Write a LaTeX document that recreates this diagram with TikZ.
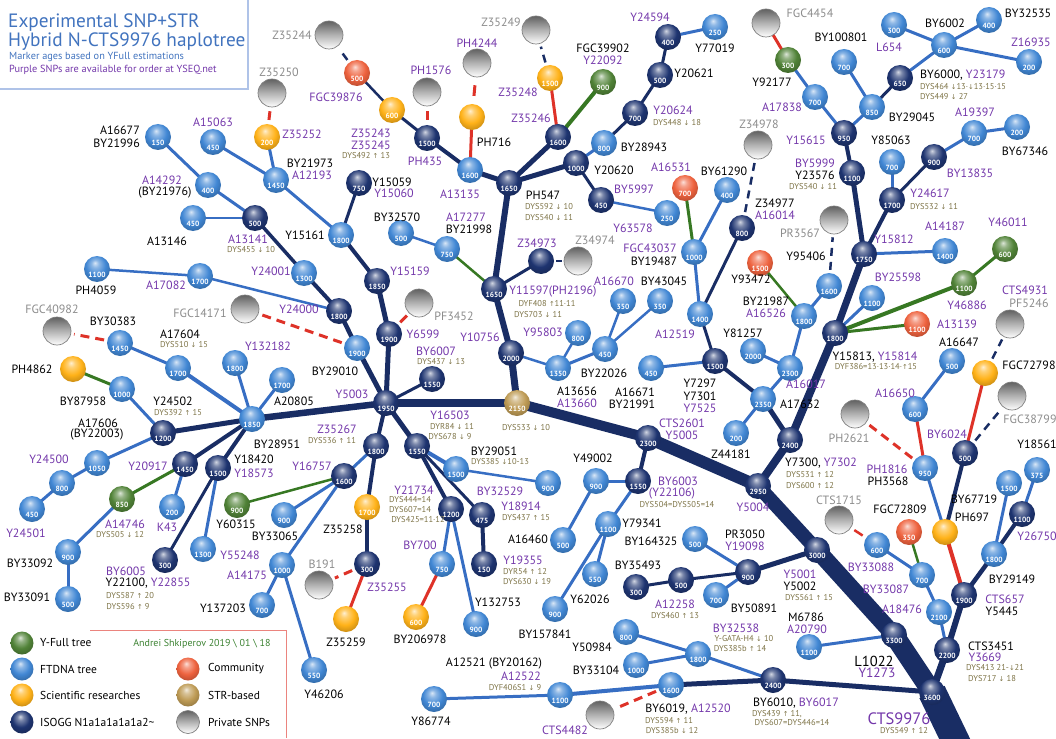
\documentclass[tikz,border=0pt]{standalone}
\usepackage{fontspec}
\setmainfont{PT Sans}
\newfontfamily\arrowfont[Scale=0.8]{DejaVu Sans}
\usetikzlibrary{backgrounds}
\newcommand\upar{{\arrowfont ↑}}
\newcommand\dnar{{\arrowfont ↓}}
\makeatletter
\pgfdeclareradialshading[tikz@ball]{gball}{\pgfqpoint{-4bp}{12bp}}{color(0bp)=(tikz@ball!20!white); color(7bp)=(tikz@ball!60!white); color(19bp)=(tikz@ball); color(31bp)=(tikz@ball!78!black); color(37bp)=(tikz@ball!62!black); color(50bp)=(tikz@ball!50!black)}
\makeatother
\definecolor{cnv}{RGB}{30,52,112}
\definecolor{clb}{RGB}{65,135,212}
\definecolor{cgr}{RGB}{80,130,55}
\definecolor{cor}{RGB}{255,178,25}
\definecolor{crd}{RGB}{238,98,62}
\definecolor{ctn}{RGB}{190,155,85}
\definecolor{enav}{RGB}{25,45,100}
\definecolor{eblu}{RGB}{55,110,195}
\definecolor{egrn}{RGB}{55,120,35}
\definecolor{ered}{RGB}{222,50,40}
\definecolor{tpur}{RGB}{115,55,170}
\definecolor{tgry}{RGB}{140,140,140}
\definecolor{tolv}{RGB}{125,115,70}
\definecolor{tblu}{RGB}{65,115,190}
\definecolor{tgrn}{RGB}{60,130,50}
\tikzset{
 bb/.style={circle,minimum size=26pt,inner sep=0pt},
 bNv/.style={bb,ball color=cnv,shading=gball},
 bLb/.style={bb,ball color=clb,shading=gball},
 bGr/.style={bb,ball color=cgr,shading=gball},
 bOr/.style={bb,ball color=cor,shading=gball},
 bRd/.style={bb,ball color=crd,shading=gball},
 bTn/.style={bb,ball color=ctn,shading=gball},
 bGy/.style={circle,minimum size=28pt,inner sep=0pt,top color=black!62,bottom color=white,middle color=black!30,draw=black!50,line width=0.7pt},
 num/.style={text=white,font=\fontsize{7.5}{7.5}\selectfont\bfseries,inner sep=0pt},
 tk/.style={font=\fontsize{12}{12}\selectfont,inner sep=0pt,text=black},
 tp/.style={tk,text=tpur},
 tg/.style={tk,text=tgry},
 ts/.style={font=\fontsize{8.5}{8.5}\selectfont,inner sep=0pt,text=tolv},
 eN/.style={draw=enav},
 eB/.style={draw=eblu,line width=3pt},
 eG/.style={draw=egrn,line width=3pt},
 eR/.style={draw=ered,line width=3pt},
 dN/.style={draw=enav,line width=2.5pt,dash pattern=on 8pt off 6pt,shorten <=3pt,shorten >=3pt},
 dR/.style={draw=ered,line width=3pt,dash pattern=on 9pt off 6pt,shorten <=3pt,shorten >=3pt},
 lgb/.style={circle,minimum size=23pt,inner sep=0pt},
 lgt/.style={anchor=west,font=\fontsize{11.5}{11.5}\selectfont,inner sep=0pt},
}
\newcommand\Ball[5]{\node[#1] (#2) at (#3,#4) {}; \node[num] (#2n) at ([yshift=-5.5pt]#2.center) {#5};}
\begin{document}
\begin{tikzpicture}[x=1pt,y=-1pt]
\useasboundingbox (0,0) rectangle (1056,738);
% title
\draw[draw={rgb,255:red,175;green,195;blue,232},line width=1.5pt] (0,89) -- (248,89) -- (248,0);
\node[anchor=north west,align=left,font=\fontsize{19.3}{15.5}\selectfont,text=tblu,inner sep=0pt] (ti1) at (8,14) {Experimental SNP+STR\\Hybrid N-CTS9976 haplotree};
\node[anchor=west,font=\fontsize{10.3}{10.3}\selectfont,text=tblu,inner sep=0pt] (ti3) at (9,57) {Marker ages based on YFull estimations};
\node[anchor=west,font=\fontsize{10.3}{10.3}\selectfont,text=tpur,inner sep=0pt] (ti4) at (9,70) {Purple SNPs are available for order at YSEQ.net};
% legend
\draw[draw=ered!60,line width=0.9pt] (90,630) -- (286,630) -- (286,738);
\node[font=\fontsize{10}{10}\selectfont,text=tgrn,inner sep=0pt] (foot) at (202,644) {Andrei Shkiperov 2019 \textbackslash{} 01 \textbackslash{} 18};
\node[lgb,ball color=cgr,shading=gball] (lg1) at (22,643) {};
\node[lgb,ball color=clb,shading=gball] (lg2) at (22,669) {};
\node[lgb,ball color=cor,shading=gball] (lg3) at (22,695) {};
\node[lgb,ball color=cnv,shading=gball] (lg4) at (22,722) {};
\node[lgb,ball color=crd,shading=gball] (lg5) at (188,669) {};
\node[lgb,ball color=ctn,shading=gball] (lg6) at (188,695) {};
\node[lgb,top color=black!62,bottom color=white,middle color=black!30,draw=black!50,line width=0.7pt] (lg7) at (188,722) {};
\node[lgt] (lt1) at (40,643) {Y-Full tree};
\node[lgt] (lt2) at (40,669) {FTDNA tree};
\node[lgt] (lt3) at (40,695) {Scientific researches};
\node[lgt] (lt4) at (40,722) {ISOGG N1a1a1a1a1a2\textasciitilde};
\node[lgt] (lt5) at (208,669) {Community};
\node[lgt] (lt6) at (208,695) {STR-based};
\node[lgt] (lt7) at (208,722) {Private SNPs};
% balls
\Ball{bLb}{a16677}{158}{137}{150}
\Ball{bLb}{a15063}{213}{142}{450}
\Ball{bLb}{a14292}{208}{185}{400}
\Ball{bLb}{a13146}{193}{218}{450}
\Ball{bNv}{a13141}{255}{218}{500}
\Ball{bOr}{z35252}{267}{137}{200}
\Ball{bGy}{z35250}{272}{93}{}
\Ball{bLb}{by21973}{276}{180}{1450}
\Ball{bGy}{z35244}{329}{35}{}
\Ball{bRd}{fgc39876}{357}{73}{500}
\Ball{bOr}{z35243}{392}{110}{600}
\Ball{bGy}{ph1576}{427}{92}{}
\Ball{bNv}{ph435}{427}{138}{1500}
\Ball{bGy}{ph4244}{477}{63}{}
\Ball{bOr}{ph716}{472}{117}{}
\Ball{bLb}{a13135}{470}{170}{1600}
\Ball{bNv}{ph547}{509}{183}{1650}
\Ball{bNv}{y15059}{359}{183}{750}
\Ball{bLb}{y15161}{341}{235}{1800}
\Ball{bLb}{by32570}{401}{233}{500}
\Ball{bLb}{a17277}{447}{249}{750}
\Ball{bGy}{z35249}{536}{30}{}
\Ball{bOr}{z35248}{550}{78}{1500}
\Ball{bNv}{z35246}{558}{137}{1600}
\Ball{bGr}{fgc39902}{603}{82}{900}
\Ball{bNv}{y24594}{668}{37}{400}
\Ball{bLb}{y77019}{715}{27}{250}
\Ball{bNv}{y20621}{660}{75}{500}
\Ball{bNv}{y20624}{635}{113}{700}
\Ball{bLb}{by28943}{604}{143}{800}
\Ball{bNv}{y20620}{576}{163}{1000}
\Ball{bNv}{by5997}{601}{200}{450}
\Ball{bLb}{y63578}{667}{213}{250}
\Ball{bRd}{a16531}{685}{188}{700}
\Ball{bLb}{by61290}{727}{190}{400}
\Ball{bGy}{z34978}{758}{145}{}
\Ball{bNv}{z34977}{742}{228}{800}
\Ball{bLb}{fgc43037}{694}{252}{1000}
\Ball{bGy}{fgc4454}{766}{23}{}
\Ball{bGr}{y92177}{788}{60}{300}
\Ball{bLb}{a17838}{815}{97}{700}
\Ball{bLb}{by100801}{844}{62}{700}
\Ball{bNv}{y15615}{844}{133}{950}
\Ball{bLb}{by29045}{872}{107}{850}
\Ball{bNv}{by6000}{900}{78}{650}
\Ball{bLb}{by6002}{944}{45}{600}
\Ball{bLb}{l654}{894}{25}{300}
\Ball{bLb}{by32535}{989}{20}{400}
\Ball{bLb}{z16935}{1029}{62}{200}
\Ball{bLb}{a19397}{974}{133}{700}
\Ball{bLb}{by67346}{1017}{127}{200}
\Ball{bNv}{by13835}{934}{157}{900}
\Ball{bLb}{y85063}{892}{162}{700}
\Ball{bNv}{y24617}{892}{200}{1700}
\Ball{bNv}{by5999}{852}{173}{1100}
\Ball{bGy}{pr3567}{834}{220}{}
\Ball{bNv}{y15812}{864}{254}{1750}
\Ball{bLb}{a14187}{945}{251}{1400}
\Ball{bGr}{y46011}{1005}{249}{600}
\Ball{bLb}{ph4059}{97}{269}{1100}
\Ball{bLb}{a17082}{200}{276}{1700}
\Ball{bGy}{fgc40982}{57}{331}{}
\Ball{bLb}{by30383}{120}{343}{1450}
\Ball{bGy}{fgc14171}{245}{309}{}
\Ball{bLb}{a17604}{178}{368}{1700}
\Ball{bOr}{ph4862}{73}{369}{}
\Ball{bLb}{by87958}{122}{389}{1000}
\Ball{bNv}{y24502}{163}{433}{1200}
\Ball{bLb}{y132182}{235}{363}{1800}
\Ball{bLb}{by28951}{252}{419}{1850}
\Ball{bLb}{a20805}{282}{380}{1700}
\Ball{bLb}{a17606}{97}{463}{1050}
\Ball{bLb}{y24500}{62}{483}{800}
\Ball{bLb}{y24501}{32}{509}{450}
\Ball{bNv}{y20917}{185}{464}{1450}
\Ball{bNv}{y18420}{218}{468}{1500}
\Ball{bGr}{y60315}{237}{505}{900}
\Ball{bLb}{y24001}{304}{273}{1300}
\Ball{bNv}{y24000}{339}{311}{1800}
\Ball{bLb}{by29010}{357}{348}{1900}
\Ball{bNv}{y15159}{377}{281}{1850}
\Ball{bNv}{y6599}{389}{334}{1900}
\Ball{bGy}{pf3452}{419}{303}{}
\Ball{bNv}{by6007}{432}{379}{1550}
\Ball{bNv}{y5003}{386}{403}{1950}
\Ball{bTn}{str2150}{517}{403}{2150}
\Ball{bNv}{y10756}{511}{353}{2000}
\Ball{bNv}{y11597}{494}{289}{1650}
\Ball{bNv}{z35267}{376}{446}{1800}
\Ball{bNv}{y16503}{417}{446}{1550}
\Ball{bLb}{by29051}{456}{469}{1500}
\Ball{bNv}{y16757}{344}{476}{1600}
\Ball{bNv}{z34973}{541}{261}{}
\Ball{bGy}{z34974}{578}{261}{}
\Ball{bLb}{a16670}{623}{301}{350}
\Ball{bLb}{by43045}{660}{301}{350}
\Ball{bLb}{y95803}{578}{333}{800}
\Ball{bLb}{by22026}{605}{349}{450}
\Ball{bLb}{a13656}{558}{368}{1350}
\Ball{bLb}{a16671}{651}{368}{450}
\Ball{bLb}{a12519}{700}{314}{1400}
\Ball{bNv}{y7297}{715}{361}{1500}
\Ball{bLb}{y81257}{753}{351}{2000}
\Ball{bLb}{a17632}{763}{399}{2350}
\Ball{bLb}{z44181}{736}{433}{200}
\Ball{bNv}{cts2601}{648}{438}{2300}
\Ball{bNv}{y7300}{790}{440}{2400}
\Ball{bNv}{y5004}{758}{486}{2950}
\Ball{bRd}{y93472}{760}{263}{1500}
\Ball{bLb}{y95406}{829}{286}{1600}
\Ball{bLb}{by21987}{804}{316}{1800}
\Ball{bLb}{a16017}{790}{368}{2300}
\Ball{bNv}{y15813}{835}{333}{1800}
\Ball{bLb}{by25598}{872}{298}{1100}
\Ball{bGr}{y46886}{964}{283}{1100}
\Ball{bRd}{a13139}{917}{324}{1100}
\Ball{bLb}{a16647}{952}{361}{500}
\Ball{bLb}{a16650}{915}{409}{600}
\Ball{bLb}{ph1816}{925}{468}{950}
\Ball{bGy}{ph2621}{855}{414}{}
\Ball{bNv}{by6024}{965}{453}{500}
\Ball{bOr}{fgc72798}{985}{373}{}
\Ball{bGy}{cts4931}{1010}{324}{}
\Ball{bGy}{fgc38799}{1012}{396}{}
\Ball{bLb}{y49002}{596}{481}{900}
\Ball{bNv}{by6003}{638}{481}{1550}
\Ball{bLb}{bx900}{548}{483}{900}
\Ball{bNv}{y21734}{451}{509}{1200}
\Ball{bNv}{y18914}{482}{515}{475}
\Ball{bLb}{by700}{442}{564}{750}
\Ball{bNv}{y19355}{484}{564}{150}
\Ball{bNv}{z35255}{367}{564}{300}
\Ball{bOr}{z35258}{367}{507}{1700}
\Ball{bGy}{b191}{319}{585}{}
\Ball{bOr}{z35259}{346}{619}{}
\Ball{bOr}{by206978}{416}{617}{600}
\Ball{bLb}{y132753}{476}{624}{900}
\Ball{bLb}{a14175}{282}{565}{1000}
\Ball{bLb}{y46206}{314}{670}{550}
\Ball{bLb}{by33065}{284}{515}{900}
\Ball{bLb}{y137203}{262}{605}{700}
\Ball{bLb}{y55248}{203}{549}{1300}
\Ball{bLb}{y86774}{434}{699}{700}
\Ball{bLb}{a12521}{560}{695}{1100}
\Ball{bLb}{by6019}{671}{685}{1600}
\Ball{bGy}{cts4482}{600}{715}{}
\Ball{bLb}{by33104}{636}{665}{1000}
\Ball{bLb}{y50984}{626}{632}{800}
\Ball{bLb}{by32538}{698}{654}{1800}
\Ball{bNv}{by6010}{773}{680}{2400}
\Ball{bNv}{by35493}{636}{587}{300}
\Ball{bNv}{a12258}{681}{580}{500}
\Ball{bLb}{by164325}{695}{539}{500}
\Ball{bNv}{pr3050}{748}{572}{900}
\Ball{bLb}{by50891}{716}{595}{700}
\Ball{bLb}{y79341}{608}{524}{1100}
\Ball{bLb}{y62026}{595}{574}{550}
\Ball{bLb}{by157841}{555}{609}{900}
\Ball{bLb}{a16460}{563}{540}{500}
\Ball{bNv}{y5001}{817}{550}{3000}
\Ball{bGy}{cts1715}{839}{520}{}
\Ball{bLb}{by33088}{877}{545}{600}
\Ball{bRd}{fgc72809}{909}{532}{350}
\Ball{bLb}{by33087}{922}{575}{700}
\Ball{bLb}{a18476}{939}{612}{2100}
\Ball{bOr}{ph697}{945}{532}{}
\Ball{bNv}{cts657}{964}{595}{1900}
\Ball{bLb}{by29149}{994}{554}{1800}
\Ball{bNv}{y26750}{1022}{514}{1100}
\Ball{bLb}{by67719}{1009}{483}{1500}
\Ball{bLb}{y18561}{1037}{470}{375}
\Ball{bNv}{cts3451}{947}{650}{2200}
\Ball{bNv}{l1022}{894}{635}{3300}
\Ball{bLb}{m6786}{809}{647}{1100}
\Ball{bNv}{cts9976}{932}{692}{3600}
\Ball{bGr}{a14746}{122}{499}{850}
\Ball{bLb}{k43}{172}{507}{200}
\Ball{bLb}{by33092}{68}{552}{900}
\Ball{bLb}{by33091}{68}{599}{500}
\Ball{bNv}{by6005}{165}{560}{300}
\coordinate (tend) at (972,775);
% edges
\begin{scope}[on background layer]
\draw[eN,line width=28pt] (cts9976.center) -- (tend);
\draw[eN,line width=20pt] (cts9976.center) -- (l1022.center);
\draw[eN,line width=17pt] (l1022.center) -- (y5001.center);
\draw[eN,line width=14pt] (y5001.center) -- (y5004.center);
\draw[eN,line width=12pt] (y5004.center) -- (cts2601.center);
\draw[eN,line width=10pt] (cts2601.center) -- (str2150.center);
\draw[eN,line width=8pt] (str2150.center) -- (y5003.center);
\draw[eN,line width=6.5pt] (y5003.center) -- (by28951.center);
\draw[eN,line width=7pt] (str2150.center) -- (y10756.center);
\draw[eN,line width=6pt] (y10756.center) -- (y11597.center);
\draw[eN,line width=6pt] (y11597.center) -- (ph547.center);
\draw[eN,line width=5pt] (ph547.center) -- (z35246.center);
\draw[eN,line width=5pt] (ph547.center) -- (y20620.center);
\draw[eN,line width=5pt] (ph547.center) -- (a13135.center);
\draw[eN,line width=4pt] (a13135.center) -- (ph435.center);
\draw[eN,line width=3pt] (ph435.center) -- (z35243.center);
\draw[eN,line width=2.5pt] (z35243.center) -- (fgc39876.center);
\draw[dN] (fgc39876) -- (z35244);
\draw[eR,shorten <=5pt,shorten >=5pt] (ph435) -- (ph1576);
\draw[eR,shorten <=8pt,shorten >=8pt] (ph716) -- (ph4244);
\draw[eR] (a13135.center) -- (ph716.center);
\draw[eR] (z35246.center) -- (z35248.center);
\draw[dN] (z35248) -- (z35249);
\draw[eG,line width=4pt] (z35246.center) -- (fgc39902.center);
\draw[eB] (y20620.center) -- (by28943.center);
\draw[eN,line width=3pt] (by28943.center) -- (y20624.center);
\draw[eN,line width=3pt] (y20624.center) -- (y20621.center);
\draw[eN,line width=3pt] (y20621.center) -- (y24594.center);
\draw[eB] (y24594.center) -- (y77019.center);
\draw[eN,line width=3pt] (y20620.center) -- (by5997.center);
\draw[eB,line width=2.5pt] (by5997.center) -- (y63578.center);
\draw[eG,line width=2.5pt] (y11597.center) -- (a17277.center);
\draw[eB,line width=2.5pt] (a17277.center) -- (by32570.center);
\draw[eN,line width=3pt] (y11597.center) -- (z34973.center);
\draw[eN,line width=2.5pt,shorten <=2pt,shorten >=2pt] (z34973) -- (z34974);
\draw[eB,line width=2.5pt] (y10756.center) -- (a13656.center);
\draw[eB,line width=2.5pt] (a13656.center) -- (y95803.center);
\draw[eB] (a13656.center) -- (by22026.center);
\draw[eB,line width=2.5pt] (by22026.center) -- (a16670.center);
\draw[eB,line width=2.5pt] (by22026.center) -- (by43045.center);
\draw[eN,line width=5pt] (y5003.center) -- (y6599.center);
\draw[eN,line width=5pt] (y6599.center) -- (y15159.center);
\draw[eR,shorten <=3pt,shorten >=3pt] (y6599) -- (pf3452);
\draw[eN,line width=4pt] (y15159.center) -- (y15161.center);
\draw[eN,line width=3pt] (y15161.center) -- (y15059.center);
\draw[eB] (y15161.center) -- (by21973.center);
\draw[eB] (by21973.center) -- (a15063.center);
\draw[eB] (by21973.center) -- (z35252.center);
\draw[eR,shorten <=4pt,shorten >=4pt] (z35252) -- (z35250);
\draw[eN,line width=5pt] (y5003.center) -- (by29010.center);
\draw[eN,line width=4.5pt] (by29010.center) -- (y24000.center);
\draw[dR] (by29010) -- (fgc14171);
\draw[eN,line width=4pt] (y24000.center) -- (y24001.center);
\draw[eB,line width=2.5pt] (y24000.center) -- (a17082.center);
\draw[eB,line width=2.5pt] (a17082.center) -- (ph4059.center);
\draw[eN,line width=3.5pt] (y24001.center) -- (a13141.center);
\draw[eB,line width=2.5pt] (a13141.center) -- (a13146.center);
\draw[eB] (a13141.center) -- (a14292.center);
\draw[eB] (a14292.center) -- (a16677.center);
\draw[eN,line width=3pt] (y5003.center) -- (by6007.center);
\draw[eN,line width=4pt] (y5003.center) -- (z35267.center);
\draw[eB] (z35267.center) -- (y16757.center);
\draw[eN,line width=4pt] (z35267.center) -- (z35258.center);
\draw[eN,line width=4pt] (z35258.center) -- (z35255.center);
\draw[eR] (z35255.center) -- (z35259.center);
\draw[dR] (z35255) -- (b191);
\draw[eG,line width=2.5pt] (y16757.center) -- (y60315.center);
\draw[eB] (y16757.center) -- (by33065.center);
\draw[eB] (y16757.center) -- (a14175.center);
\draw[eB] (a14175.center) -- (y137203.center);
\draw[eB] (a14175.center) -- (y46206.center);
\draw[eN,line width=5pt] (y5003.center) -- (y16503.center);
\draw[eB,line width=4pt] (y16503.center) -- (by29051.center);
\draw[eB,line width=2.5pt] (by29051.center) -- (bx900.center);
\draw[eN,line width=4pt] (y16503.center) -- (y21734.center);
\draw[eN,line width=3pt] (y16503.center) -- (y18914.center);
\draw[eN,line width=4pt] (y18914.center) -- (y19355.center);
\draw[eB] (y21734.center) -- (by700.center);
\draw[eR] (by700.center) -- (by206978.center);
\draw[eB] (y21734.center) -- (y132753.center);
\draw[eB] (by28951.center) -- (y132182.center);
\draw[eB] (by28951.center) -- (a20805.center);
\draw[eB,line width=4pt] (by28951.center) -- (a17604.center);
\draw[eB] (a17604.center) -- (by30383.center);
\draw[dR] (by30383) -- (fgc40982);
\draw[eN,line width=5pt] (by28951.center) -- (y24502.center);
\draw[eB] (y24502.center) -- (by87958.center);
\draw[eG] (by87958.center) -- (ph4862.center);
\draw[eB] (y24502.center) -- (a17606.center);
\draw[eB] (a17606.center) -- (y24500.center);
\draw[eB] (y24500.center) -- (y24501.center);
\draw[eN,line width=4pt] (by28951.center) -- (y20917.center);
\draw[eG] (y20917.center) -- (a14746.center);
\draw[eB] (y20917.center) -- (k43.center);
\draw[eB] (a14746.center) -- (by33092.center);
\draw[eB] (by33092.center) -- (by33091.center);
\draw[eN,line width=4pt] (by28951.center) -- (y18420.center);
\draw[eN,line width=3pt] (y18420.center) -- (by6005.center);
\draw[eB] (y18420.center) -- (y55248.center);
\draw[eN,line width=4pt] (cts2601.center) -- (by6003.center);
\draw[eB] (by6003.center) -- (y49002.center);
\draw[eB] (y49002.center) -- (a16460.center);
\draw[eB] (by6003.center) -- (y79341.center);
\draw[eB] (y79341.center) -- (y62026.center);
\draw[eB] (y79341.center) -- (by157841.center);
\draw[eN,line width=8pt] (y5004.center) -- (y7300.center);
\draw[eN,line width=5pt] (y7300.center) -- (a17632.center);
\draw[eN,line width=4pt] (a17632.center) -- (y7297.center);
\draw[eN,line width=3pt] (y7297.center) -- (a12519.center);
\draw[eB] (y7297.center) -- (a16671.center);
\draw[eB] (a12519.center) -- (fgc43037.center);
\draw[eN,line width=3pt] (a12519.center) -- (z34977.center);
\draw[dN] (z34977) -- (z34978);
\draw[eG] (fgc43037.center) -- (a16531.center);
\draw[eB] (fgc43037.center) -- (by61290.center);
\draw[eB] (a17632.center) -- (z44181.center);
\draw[eB] (a17632.center) -- (a16017.center);
\draw[eB] (a16017.center) -- (y81257.center);
\draw[eB] (a16017.center) -- (by21987.center);
\draw[eG,line width=2.5pt] (by21987.center) -- (y93472.center);
\draw[eB] (by21987.center) -- (y95406.center);
\draw[dN] (y95406) -- (pr3567);
\draw[eN,line width=8pt] (y7300.center) -- (y15813.center);
\draw[eN,line width=7pt] (y15813.center) -- (y15812.center);
\draw[eN,line width=5pt] (y15812.center) -- (by5999.center);
\draw[eN,line width=4pt] (by5999.center) -- (y15615.center);
\draw[eB] (y15615.center) -- (a17838.center);
\draw[eB] (a17838.center) -- (y92177.center);
\draw[eR] (y92177.center) -- (fgc4454.center);
\draw[eB] (y15615.center) -- (by29045.center);
\draw[eB] (by29045.center) -- (by100801.center);
\draw[eN,line width=3pt] (by29045.center) -- (by6000.center);
\draw[eB] (by6000.center) -- (by6002.center);
\draw[eB] (by6002.center) -- (l654.center);
\draw[eB] (by6002.center) -- (by32535.center);
\draw[eB] (by6002.center) -- (z16935.center);
\draw[eN,line width=4pt] (y15812.center) -- (y24617.center);
\draw[eB] (y24617.center) -- (y85063.center);
\draw[eN,line width=3pt] (y24617.center) -- (by13835.center);
\draw[eB] (by13835.center) -- (a19397.center);
\draw[eB] (a19397.center) -- (by67346.center);
\draw[eB] (y15812.center) -- (a14187.center);
\draw[eB] (y15813.center) -- (by25598.center);
\draw[eG,line width=4pt] (y15813.center) -- (y46886.center);
\draw[eG] (y46886.center) -- (y46011.center);
\draw[eG] (y15813.center) -- (a13139.center);
\draw[eN,line width=5pt] (y5001.center) -- (pr3050.center);
\draw[eN,line width=3pt] (pr3050.center) -- (a12258.center);
\draw[eN,line width=3pt] (a12258.center) -- (by35493.center);
\draw[eB] (pr3050.center) -- (by164325.center);
\draw[eB] (pr3050.center) -- (by50891.center);
\draw[eB] (l1022.center) -- (m6786.center);
\draw[eN,line width=5pt] (cts9976.center) -- (by6010.center);
\draw[eN,line width=5pt] (by6010.center) -- (by6019.center);
\draw[eB,line width=4pt] (by6019.center) -- (a12521.center);
\draw[eB] (a12521.center) -- (y86774.center);
\draw[dR] (by6019) -- (cts4482);
\draw[eB] (by6010.center) -- (by32538.center);
\draw[eB] (by32538.center) -- (y50984.center);
\draw[eB] (by32538.center) -- (by33104.center);
\draw[eN,line width=7pt] (cts9976.center) -- (cts3451.center);
\draw[eN,line width=6pt] (cts3451.center) -- (cts657.center);
\draw[eB] (cts3451.center) -- (a18476.center);
\draw[eB] (a18476.center) -- (by33087.center);
\draw[eB] (by33087.center) -- (by33088.center);
\draw[eG,line width=2.5pt] (by33087.center) -- (fgc72809.center);
\draw[eR,line width=2.5pt,shorten <=4pt,shorten >=4pt] (by33088) -- (cts1715);
\draw[eN,line width=4.5pt] (cts657.center) -- (by29149.center);
\draw[eN,line width=4pt] (by29149.center) -- (y26750.center);
\draw[eB] (y26750.center) -- (y18561.center);
\draw[eB] (by29149.center) -- (by67719.center);
\draw[eR,line width=4pt] (cts657.center) -- (ph697.center);
\draw[eN,line width=4pt] (ph697.center) -- (by6024.center);
\draw[eB] (ph697.center) -- (ph1816.center);
\draw[eR] (by6024.center) -- (fgc72798.center);
\draw[dN] (fgc72798) -- (cts4931);
\draw[dN] (by6024) -- (fgc38799);
\draw[eR] (ph1816.center) -- (a16650.center);
\draw[eB] (a16650.center) -- (a16647.center);
\draw[dR] (ph1816) -- (ph2621);
\end{scope}
% labels
\node[tk,anchor=east] (t1) at (140,130) {A16677};
\node[tk,anchor=east] (t2) at (140,143) {BY21996};
\node[tp] (t3) at (213,122) {A15063};
\node[tp] (t4) at (162,180) {A14292};
\node[tk] (t5) at (165,193) {(BY21976)};
\node[tk] (t6) at (167,241) {A13146};
\node[tp] (t7) at (248,239) {A13141};
\node[ts] (t8) at (251,250) {DYS455 \dnar{} 10};
\node[tg] (t9) at (292,35) {Z35244};
\node[tg] (t10) at (279,72) {Z35250};
\node[tp] (t11) at (336,97) {FGC39876};
\node[tp] (t12) at (302,134) {Z35252};
\node[tp] (t13) at (371,133) {Z35243};
\node[tp] (t14) at (371,145) {Z35245};
\node[ts] (t15) at (366,156) {DYS492 \upar{} 13};
\node[tp] (t16) at (431,70) {PH1576};
\node[tp] (t17) at (477,43) {PH4244};
\node[tk] (t18) at (494,142) {PH716};
\node[tp] (t19) at (425,161) {PH435};
\node[tk] (t20) at (310,163) {BY21973};
\node[tp] (t21) at (312,175) {A12193};
\node[tk] (t22) at (392,182) {Y15059};
\node[tp] (t23) at (394,193) {Y15060};
\node[tp] (t24) at (460,194) {A13135};
\node[tk] (t25) at (305,235) {Y15161};
\node[tk] (t26) at (397,217) {BY32570};
\node[tp] (t27) at (466,217) {A17277};
\node[tk] (t28) at (469,229) {BY21998};
\node[tg] (t29) at (501,22) {Z35249};
\node[tp] (t30) at (518,92) {Z35248};
\node[tp] (t31) at (531,118) {Z35246};
\node[tk] (t32) at (603,48) {FGC39902};
\node[tp] (t33) at (603,60) {Y22092};
\node[tp] (t34) at (650,17) {Y24594};
\node[tk] (t35) at (715,48) {Y77019};
\node[tk] (t36) at (694,73) {Y20621};
\node[tp] (t37) at (673,110) {Y20624};
\node[ts] (t38) at (677,123) {DYS448 \dnar{} 18};
\node[tk] (t39) at (644,147) {BY28943};
\node[tk] (t40) at (614,170) {Y20620};
\node[tk] (t41) at (543,195) {PH547};
\node[ts] (t42) at (549,207) {DYS592 \dnar{} 10};
\node[ts] (t43) at (549,218) {DYS540 \dnar{} 11};
\node[tp] (t44) at (634,189) {BY5997};
\node[tp] (t45) at (633,228) {Y63578};
\node[tp] (t46) at (671,167) {A16531};
\node[tk] (t47) at (724,171) {BY61290};
\node[tg] (t48) at (759,124) {Z34978};
\node[tk] (t49) at (775,203) {Z34977};
\node[tp] (t50) at (775,215) {A16014};
\node[tp] (t51) at (537,243) {Z34973};
\node[tg] (t52) at (595,240) {Z34974};
\node[tk] (t53) at (772,82) {Y92177};
\node[tp] (t54) at (782,107) {A17838};
\node[tg] (t55) at (810,13) {FGC4454};
\node[tk] (t56) at (841,37) {BY100801};
\node[tp] (t57) at (889,47) {L654};
\node[tk] (t58) at (945,23) {BY6002};
\node[tk] (t59) at (1028,13) {BY32535};
\node[tp] (t60) at (1031,42) {Z16935};
\node[tk,anchor=west] (t61) at (920,75) {BY6000, \textcolor{tpur}{Y23179}};
\node[ts,anchor=west] (t62) at (920,87) {DYS464 \dnar{}13·\dnar{}13·15·15};
\node[ts,anchor=west] (t63) at (920,97) {DYS449 \dnar{} 27};
\node[tk] (t64) at (912,117) {BY29045};
\node[tp] (t65) at (975,112) {A19397};
\node[tk] (t66) at (1025,151) {BY67346};
\node[tp] (t67) at (806,140) {Y15615};
\node[tk] (t68) at (891,140) {Y85063};
\node[tp] (t69) at (970,173) {BY13835};
\node[tp] (t70) at (815,163) {BY5999};
\node[tk] (t71) at (815,175) {Y23576};
\node[ts] (t72) at (813,187) {DYS540 \dnar{} 11};
\node[tp] (t73) at (930,193) {Y24617};
\node[ts] (t74) at (934,207) {DYS532 \dnar{} 11};
\node[tp] (t75) at (945,226) {A14187};
\node[tp] (t76) at (1008,222) {Y46011};
\node[tp] (t77) at (894,239) {Y15812};
\node[tg] (t78) at (800,233) {PR3567};
\node[tk] (t79) at (96,290) {PH4059};
\node[tp] (t80) at (166,285) {A17082};
\node[tg] (t81) at (52,309) {FGC40982};
\node[tk] (t82) at (113,321) {BY30383};
\node[tg] (t83) at (200,313) {FGC14171};
\node[tk] (t84) at (180,334) {A17604};
\node[ts] (t85) at (184,345) {DYS510 \dnar{} 15};
\node[tk] (t86) at (32,369) {PH4862};
\node[tk] (t87) at (83,401) {BY87958};
\node[tk] (t88) at (173,401) {Y24502};
\node[ts] (t89) at (178,413) {DYS392 \upar{} 15};
\node[tk] (t90) at (98,423) {A17606};
\node[tk] (t91) at (97,435) {(BY22003)};
\node[tp] (t92) at (49,459) {Y24500};
\node[tp] (t93) at (148,466) {Y20917};
\node[tp] (t94) at (268,346) {Y132182};
\node[tk] (t95) at (277,444) {BY28951};
\node[tk] (t96) at (254,459) {Y18420};
\node[tp] (t97) at (254,473) {Y18573};
\node[tp] (t98) at (271,271) {Y24001};
\node[tk] (t99) at (294,401) {A20805};
\node[tp] (t100) at (299,309) {Y24000};
\node[tk] (t101) at (335,371) {BY29010};
\node[tp] (t102) at (410,271) {Y15159};
\node[tp] (t103) at (423,334) {Y6599};
\node[tg] (t104) at (454,316) {PF3452};
\node[tp] (t105) at (436,351) {BY6007};
\node[ts] (t106) at (441,362) {DYS437 \dnar{} 13};
\node[tp] (t107) at (352,394) {Y5003};
\node[tp] (t108) at (480,337) {Y10756};
\node[tp] (t109) at (450,415) {Y16503};
\node[ts] (t110) at (452,427) {DYR84 \dnar{} 11};
\node[ts] (t111) at (450,437) {DYS678 \dnar{} 9};
\node[tp] (t112) at (337,429) {Z35267};
\node[ts] (t113) at (332,441) {DYS536 \upar{} 11};
\node[tk] (t114) at (494,451) {BY29051};
\node[ts] (t115) at (500,462) {DYS385 \dnar{}10-13};
\node[tp] (t116) at (312,466) {Y16757};
\node[tp] (t117) at (553,292) {Y11597(PH2196)};
\node[ts] (t118) at (547,304) {DYF408 \upar{}11·11};
\node[ts] (t119) at (538,315) {DYS703 \dnar{} 11};
\node[ts] (t120) at (526,428) {DYS533 \dnar{} 10};
\node[tp] (t121) at (614,281) {A16670};
\node[tk] (t122) at (664,281) {BY43045};
\node[tp] (t123) at (543,332) {Y95803};
\node[tk] (t124) at (604,373) {BY22026};
\node[tk] (t125) at (577,391) {A13656};
\node[tp] (t126) at (577,403) {A13660};
\node[tk] (t127) at (635,392) {A16671};
\node[tk] (t128) at (632,404) {BY21991};
\node[tp] (t129) at (675,334) {A12519};
\node[tk] (t130) at (700,383) {Y7297};
\node[tk] (t131) at (700,396) {Y7301};
\node[tp] (t132) at (700,408) {Y7525};
\node[tk] (t133) at (743,333) {Y81257};
\node[tk] (t134) at (766,301) {BY21987};
\node[tp] (t135) at (766,313) {A16526};
\node[tk] (t136) at (751,279) {Y93472};
\node[tp] (t137) at (650,248) {FGC43037};
\node[tk] (t138) at (654,261) {BY19487};
\node[tp] (t139) at (682,423) {CTS2601};
\node[tp] (t140) at (682,435) {Y5005};
\node[tk] (t141) at (731,454) {Z44181};
\node[tk] (t142) at (800,404) {A17632};
\node[tk] (t143) at (593,458) {Y49002};
\node[tp] (t144) at (678,481) {BY6003};
\node[tp] (t145) at (672,494) {(Y22106)};
\node[ts] (t146) at (677,505) {DYS504=DYS505=14};
\node[tp] (t147) at (753,507) {Y5004};
\node[tk] (t148) at (806,256) {Y95406};
\node[tp] (t149) at (898,277) {BY25598};
\node[tp] (t150) at (967,305) {Y46886};
\node[tp] (t151) at (957,324) {A13139};
\node[tp] (t152) at (1025,290) {CTS4931};
\node[tg] (t153) at (1029,303) {PF5246};
\node[tk] (t154) at (959,342) {A16647};
\node[tk] (t155) at (1029,365) {FGC72798};
\node[tk] (t156) at (875,357) {Y15813, \textcolor{tpur}{Y15814}};
\node[ts] (t157) at (876,367) {DYF386=13·13·14·\upar{}15};
\node[tp] (t158) at (806,384) {A16017};
\node[tp] (t159) at (895,393) {A16650};
\node[tg] (t160) at (849,438) {PH2621};
\node[tg] (t161) at (1030,419) {FGC38799};
\node[tp] (t162) at (947,434) {BY6024};
\node[tk] (t163) at (1037,444) {Y18561};
\node[tp] (t164) at (887,469) {PH1816};
\node[tk] (t165) at (888,481) {PH3568};
\node[tk] (t166) at (821,463) {Y7300, \textcolor{tpur}{Y7302}};
\node[ts] (t167) at (810,475) {DYS531 \upar{} 12};
\node[ts] (t168) at (810,486) {DYS600 \upar{} 12};
\node[tp] (t169) at (26,533) {Y24501};
\node[tp] (t170) at (125,524) {A14746};
\node[ts] (t171) at (120,535) {DYS505 \dnar{} 12};
\node[tp] (t172) at (167,527) {K43};
\node[tk] (t173) at (236,524) {Y60315};
\node[tk] (t174) at (275,536) {BY33065};
\node[tk] (t175) at (30,563) {BY33092};
\node[tk] (t176) at (27,597) {BY33091};
\node[tp] (t177) at (126,571) {BY6005};
\node[tk] (t178) at (148,583) {Y22100, \textcolor{tpur}{Y22855}};
\node[ts] (t179) at (130,596) {DYS587 \upar{} 20};
\node[ts] (t180) at (128,607) {DYS596 \upar{} 9};
\node[tp] (t181) at (240,555) {Y55248};
\node[tp] (t182) at (247,575) {A14175};
\node[tk] (t183) at (223,608) {Y137203};
\node[tk] (t184) at (343,529) {Z35258};
\node[tg] (t185) at (322,564) {B191};
\node[tp] (t186) at (387,587) {Z35255};
\node[tk] (t187) at (346,642) {Z35259};
\node[tp] (t188) at (420,545) {BY700};
\node[tk] (t189) at (420,639) {BY206978};
\node[tk] (t190) at (498,602) {Y132753};
\node[tk] (t191) at (324,694) {Y46206};
\node[tk] (t192) at (431,721) {Y86774};
\node[tk] (t193) at (494,664) {A12521 (BY20162)};
\node[tp] (t194) at (521,676) {A12522};
\node[ts] (t195) at (515,688) {DYF406S1 \dnar{} 9};
\node[tp] (t196) at (414,490) {Y21734};
\node[ts] (t197) at (410,500) {DYS444=14};
\node[ts] (t198) at (410,510) {DYS607=14};
\node[ts] (t199) at (418,520) {DYS425=11·12};
\node[tp] (t200) at (500,491) {BY32529};
\node[tp] (t201) at (521,506) {Y18914};
\node[ts] (t202) at (526,518) {DYS437 \upar{} 15};
\node[tk] (t203) at (528,539) {A16460};
\node[tp] (t204) at (523,560) {Y19355};
\node[ts] (t205) at (525,572) {DYR54 \upar{} 12};
\node[ts] (t206) at (527,582) {DYS630 \dnar{} 19};
\node[tk] (t207) at (545,634) {BY157841};
\node[tp] (t208) at (565,730) {CTS4482};
\node[tk] (t209) at (688,709) {BY6019, \textcolor{tpur}{A12520}};
\node[ts] (t210) at (669,721) {DYS594 \upar{} 11};
\node[ts] (t211) at (672,731) {DYS385b \dnar{} 12};
\node[tk] (t212) at (596,670) {BY33104};
\node[tk] (t213) at (592,647) {Y50984};
\node[tp] (t214) at (736,628) {BY32538};
\node[ts] (t215) at (744,639) {Y-GATA-H4 \dnar{} 10};
\node[ts] (t216) at (740,649) {DYS385b \upar{} 14};
\node[tk] (t217) at (796,703) {BY6010, \textcolor{tpur}{BY6017}};
\node[ts] (t218) at (777,714) {DYS439 \upar{} 11,};
\node[ts] (t219) at (792,723) {DYS607=DYS446=14};
\node[tk] (t220) at (638,565) {BY35493};
\node[tp] (t221) at (675,604) {A12258};
\node[ts] (t222) at (675,616) {DYS460 \upar{} 13};
\node[tk] (t223) at (651,541) {BY164325};
\node[tk] (t224) at (745,534) {PR3050};
\node[tp] (t225) at (745,546) {Y19098};
\node[tk] (t226) at (754,608) {BY50891};
\node[tk] (t227) at (642,523) {Y79341};
\node[tk] (t228) at (590,599) {Y62026};
\node[tg] (t229) at (839,500) {CTS1715};
\node[tk] (t230) at (900,509) {FGC72809};
\node[tk] (t231) at (972,517) {PH697};
\node[tk] (t232) at (974,499) {BY67719};
\node[tp] (t233) at (1037,536) {Y26750};
\node[tp] (t234) at (871,567) {BY33088};
\node[tp] (t235) at (886,589) {BY33087};
\node[tp] (t236) at (902,609) {A18476};
\node[tk] (t237) at (1012,579) {BY29149};
\node[tp] (t238) at (1005,599) {CTS657};
\node[tk] (t239) at (1002,611) {Y5445};
\node[tk] (t240) at (991,646) {CTS3451};
\node[tp] (t241) at (985,657) {Y3669};
\node[ts] (t242) at (995,668) {DYS413 21-\dnar{}21};
\node[ts] (t243) at (992,679) {DYS717 \dnar{} 18};
\node[tk,font=\fontsize{14.5}{14.5}\selectfont] (t244) at (874,661) {L1022};
\node[tp,font=\fontsize{13.5}{13.5}\selectfont] (t245) at (877,673) {Y1273};
\node[tp,font=\fontsize{16.5}{16.5}\selectfont] (t246) at (899,719) {CTS9976};
\node[ts] (t247) at (904,731) {DYS549 \upar{} 12};
\node[tp] (t248) at (800,574) {Y5001};
\node[tk] (t249) at (800,586) {Y5002};
\node[ts] (t250) at (809,598) {DYS561 \upar{} 15};
\node[tk] (t251) at (806,617) {M6786};
\node[tp] (t252) at (807,629) {A20790};
\end{tikzpicture}
\end{document}
